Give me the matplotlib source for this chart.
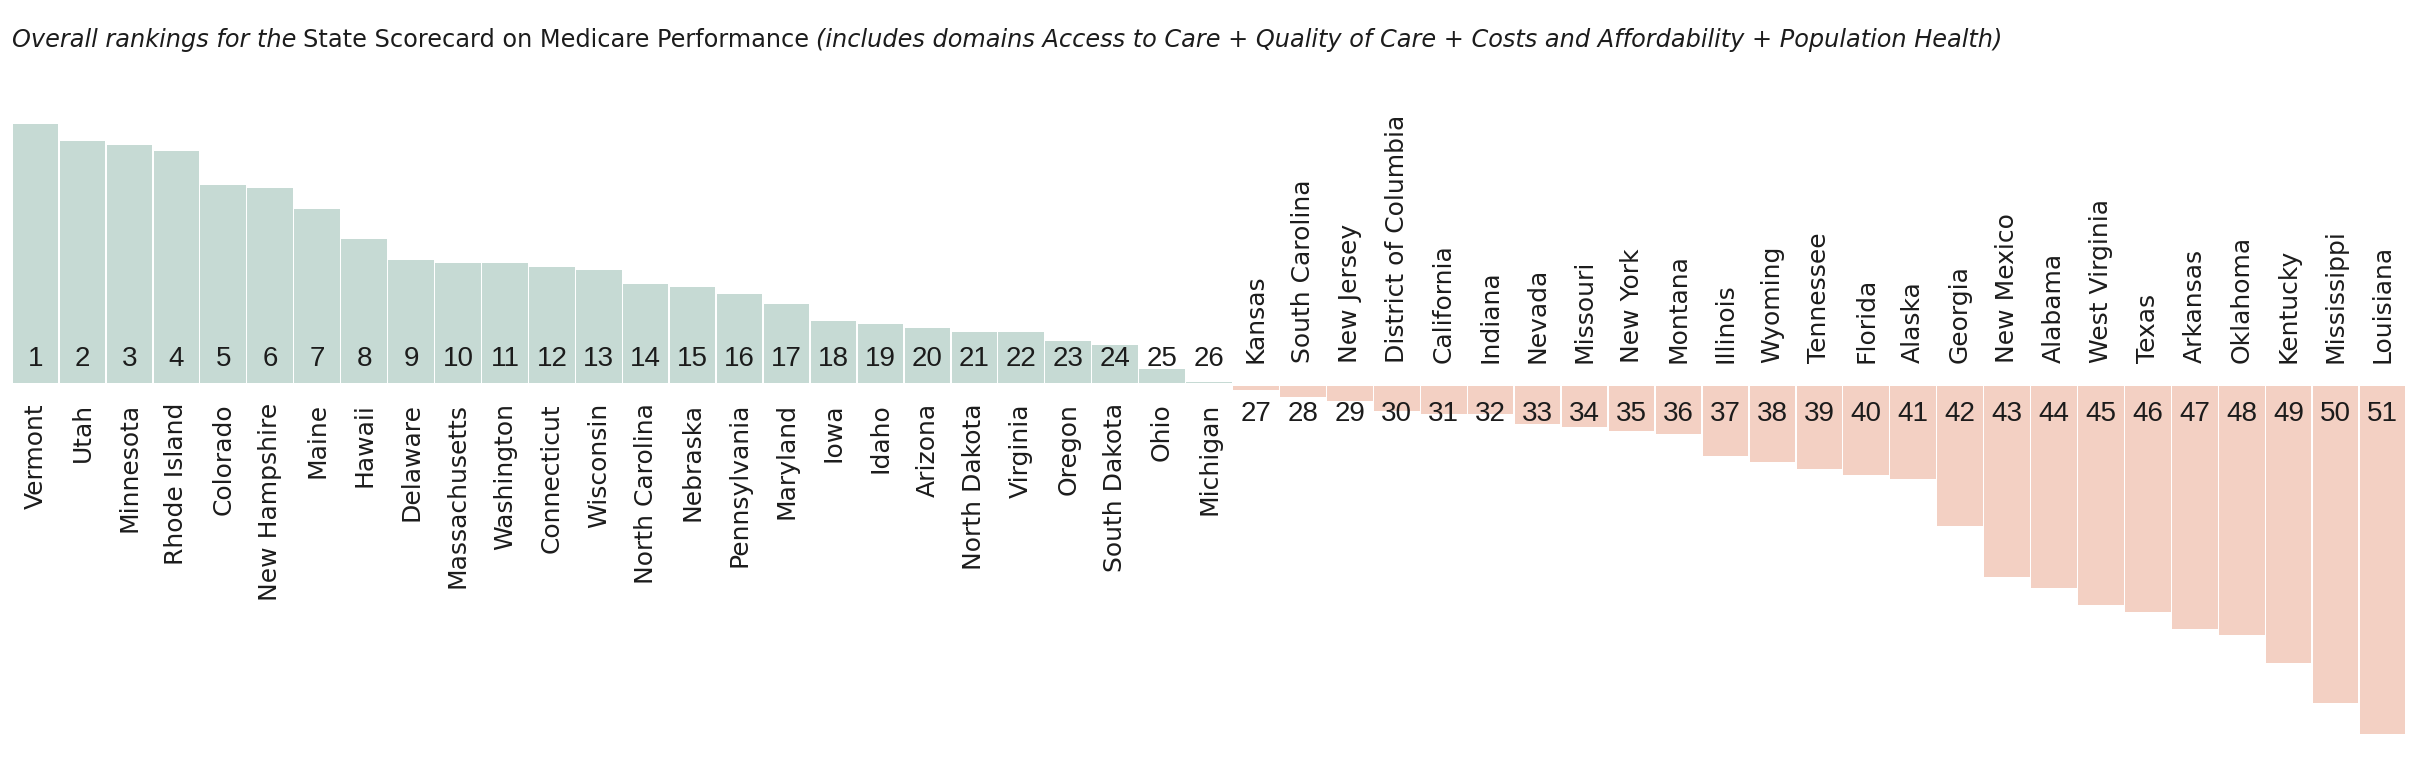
import matplotlib
matplotlib.use('Agg')
import matplotlib.pyplot as plt

# states in rank order, best to worst
states = ['Vermont', 'Utah', 'Minnesota', 'Rhode Island', 'Colorado', 'New Hampshire',
          'Maine', 'Hawaii', 'Delaware', 'Massachusetts', 'Washington', 'Connecticut',
          'Wisconsin', 'North Carolina', 'Nebraska', 'Pennsylvania', 'Maryland', 'Iowa',
          'Idaho', 'Arizona', 'North Dakota', 'Virginia', 'Oregon', 'South Dakota', 'Ohio',
          'Michigan', 'Kansas', 'South Carolina', 'New Jersey', 'District of Columbia',
          'California', 'Indiana', 'Nevada', 'Missouri', 'New York', 'Montana', 'Illinois',
          'Wyoming', 'Tennessee', 'Florida', 'Alaska', 'Georgia', 'New Mexico', 'Alabama',
          'West Virginia', 'Texas', 'Arkansas', 'Oklahoma', 'Kentucky', 'Mississippi',
          'Louisiana']
ranks = list(range(1, 52))

# score relative to the middle (above median for ranks 1-26, below for 27-51)
above = [259.3, 242.3, 238.7, 232.3, 198.3, 195.0, 174.7, 144.0, 123.3, 120.3, 120.3,
         116.7, 113.3, 99.7, 96.0, 89.3, 79.0, 62.0, 59.0, 55.3, 51.7, 51.7, 42.0, 38.3,
         14.7, 1.0]
below = [4.7, 11.3, 15.0, 25.0, 28.3, 28.3, 38.7, 41.7, 45.3, 48.7, 70.0, 76.0, 83.0,
         89.7, 93.0, 140.3, 191.7, 202.0, 219.0, 226.0, 243.0, 249.7, 277.0, 317.0, 348.0]

green = '#c6dad4'
pink = '#f3d0c3'
ink = '#1c1c1c'
gap = 1.2

fig = plt.figure(figsize=(24.22, 7.58), dpi=100)
ax = fig.add_axes([0, 0, 1, 1])
ax.set_xlim(-0.756, 50.84)
ax.set_ylim(-373.5, 384.5)
ax.axis('off')

n_top = len(above)
x_top = list(range(n_top))
x_bot = list(range(n_top, n_top + len(below)))

ax.bar(x_top, above, bottom=gap, width=0.97, color=green, linewidth=0)
ax.bar(x_bot, [-v for v in below], bottom=-gap, width=0.97, color=pink, linewidth=0)

for i, (name, r) in enumerate(zip(states, ranks)):
    if i < n_top:
        ax.text(i, 18.5, str(r), ha='center', va='baseline', fontsize=20,
                family='Liberation Sans', color=ink)
        ax.text(i, -18.5, name, ha='center', va='top', rotation=90, fontsize=18,
                family='DejaVu Sans', color=ink)
    else:
        ax.text(i, -36.2, str(r), ha='center', va='baseline', fontsize=20,
                family='Liberation Sans', color=ink)
        ax.text(i, 21.5, name, ha='center', va='bottom', rotation=90, fontsize=18,
                family='DejaVu Sans', color=ink)

# title in three pieces: italic / regular / italic
t1 = fig.text(12 / 2422, 1 - 47 / 758, 'Overall rankings for the', fontsize=17.3,
              style='italic', family='DejaVu Sans', color=ink, va='baseline')
t2 = ax.annotate('State Scorecard on Medicare Performance', xy=(1, 0), xycoords=t1,
                 xytext=(5, 0), textcoords='offset points', va='bottom', ha='left',
                 fontsize=17.3, family='DejaVu Sans', color=ink)
t3 = ax.annotate('(includes domains Access to Care + Quality of Care + Costs and '
                 'Affordability + Population Health)', xy=(1, 0), xycoords=t2,
                 xytext=(5, 0), textcoords='offset points', va='bottom', ha='left',
                 fontsize=17.3, style='italic', family='DejaVu Sans', color=ink)

fig.savefig('out.png', dpi=100)
